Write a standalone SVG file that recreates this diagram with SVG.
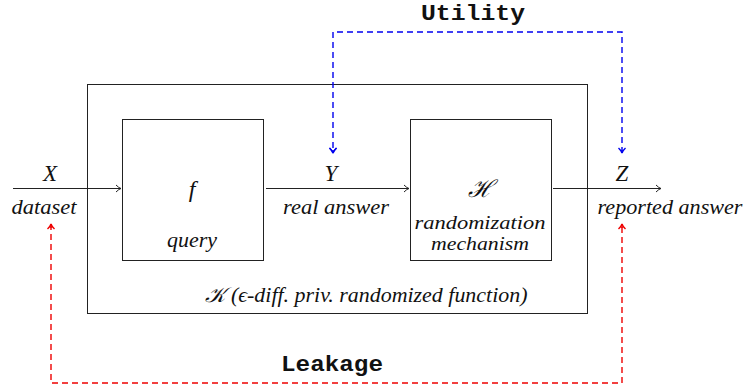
<svg xmlns="http://www.w3.org/2000/svg" width="744" height="390" viewBox="0 0 744 390">
<defs>
<marker id="ah" markerWidth="10" markerHeight="10" refX="7" refY="5" orient="auto" markerUnits="userSpaceOnUse">
<path d="M2,1.5 Q5,4.5 7,5 Q5,5.5 2,8.5" fill="none" stroke="#222" stroke-width="1"/>
</marker>
<marker id="ahb" markerWidth="10" markerHeight="10" refX="7" refY="5" orient="auto" markerUnits="userSpaceOnUse">
<path d="M2,1.5 Q5,4.5 7,5 Q5,5.5 2,8.5" fill="none" stroke="#0000ee" stroke-width="1.4"/>
</marker>
<marker id="ahr" markerWidth="10" markerHeight="10" refX="7" refY="5" orient="auto" markerUnits="userSpaceOnUse">
<path d="M2,1.5 Q5,4.5 7,5 Q5,5.5 2,8.5" fill="none" stroke="#ee0000" stroke-width="1.4"/>
</marker>
</defs>
<rect width="744" height="390" fill="#fff"/>
<g font-family="'Liberation Serif', 'Times New Roman', Tinos, serif" font-style="italic" fill="#111" text-anchor="middle">
<g id="K">
<rect x="87.5" y="84.5" width="500" height="229" fill="none" stroke="#222"/>
<text x="366" y="302" font-size="21" textLength="323" lengthAdjust="spacingAndGlyphs">𝒦 (ϵ-diff. priv. randomized function)</text>
</g>
<g id="f">
<rect x="122.5" y="119.5" width="141" height="141" fill="none" stroke="#222"/>
<text x="192" y="197" font-size="24">f</text>
<text x="192" y="247" font-size="21" textLength="50" lengthAdjust="spacingAndGlyphs">query</text>
</g>
<g id="H">
<rect x="410.5" y="119.5" width="141" height="141" fill="none" stroke="#222"/>
<text x="480" y="197" font-size="24">ℋ</text>
<text x="480" y="229" font-size="19" textLength="131" lengthAdjust="spacingAndGlyphs">randomization</text>
<text x="480" y="250" font-size="19" textLength="98" lengthAdjust="spacingAndGlyphs">mechanism</text>
</g>
<g id="labels">
<text x="50" y="181" font-size="23">X</text>
<text x="44" y="214" font-size="21" textLength="65" lengthAdjust="spacingAndGlyphs">dataset</text>
<text x="331" y="181" font-size="23">Y</text>
<text x="336" y="214" font-size="21" textLength="106" lengthAdjust="spacingAndGlyphs">real answer</text>
<text x="622" y="181" font-size="23">Z</text>
<text x="670" y="214" font-size="21" textLength="145" lengthAdjust="spacingAndGlyphs">reported answer</text>
</g>
</g>
<g id="connectors" fill="none">
<line x1="13" y1="188.5" x2="121" y2="188.5" stroke="#222" marker-end="url(#ah)"/>
<line x1="266" y1="188.5" x2="409" y2="188.5" stroke="#222" marker-end="url(#ah)"/>
<line x1="553" y1="188.5" x2="661" y2="188.5" stroke="#222" marker-end="url(#ah)"/>
<path d="M622,153 V32 H333 V153" stroke="#0000ee" stroke-width="1.4" stroke-dasharray="6,4" marker-end="url(#ahb)"/>
<path d="M333,150 V153" stroke="#0000ee" stroke-width="1.4" marker-end="url(#ahb)"/>
<path d="M622,150 V153" stroke="#0000ee" stroke-width="1.4" marker-end="url(#ahb)"/>
<path d="M51,224 V383 H622 V224" stroke="#ee0000" stroke-width="1.4" stroke-dasharray="6,4"/>
<path d="M51,228 V224" stroke="#ee0000" stroke-width="1.4" marker-end="url(#ahr)"/>
<path d="M622,228 V224" stroke="#ee0000" stroke-width="1.4" marker-end="url(#ahr)"/>
</g>
<g font-family="'Liberation Mono', 'Courier New', Cousine, monospace" font-weight="bold" font-size="22" fill="#111" text-anchor="middle">
<text x="473" y="20" textLength="104" lengthAdjust="spacingAndGlyphs">Utility</text>
<text x="332" y="371" textLength="102" lengthAdjust="spacingAndGlyphs">Leakage</text>
</g>
</svg>
